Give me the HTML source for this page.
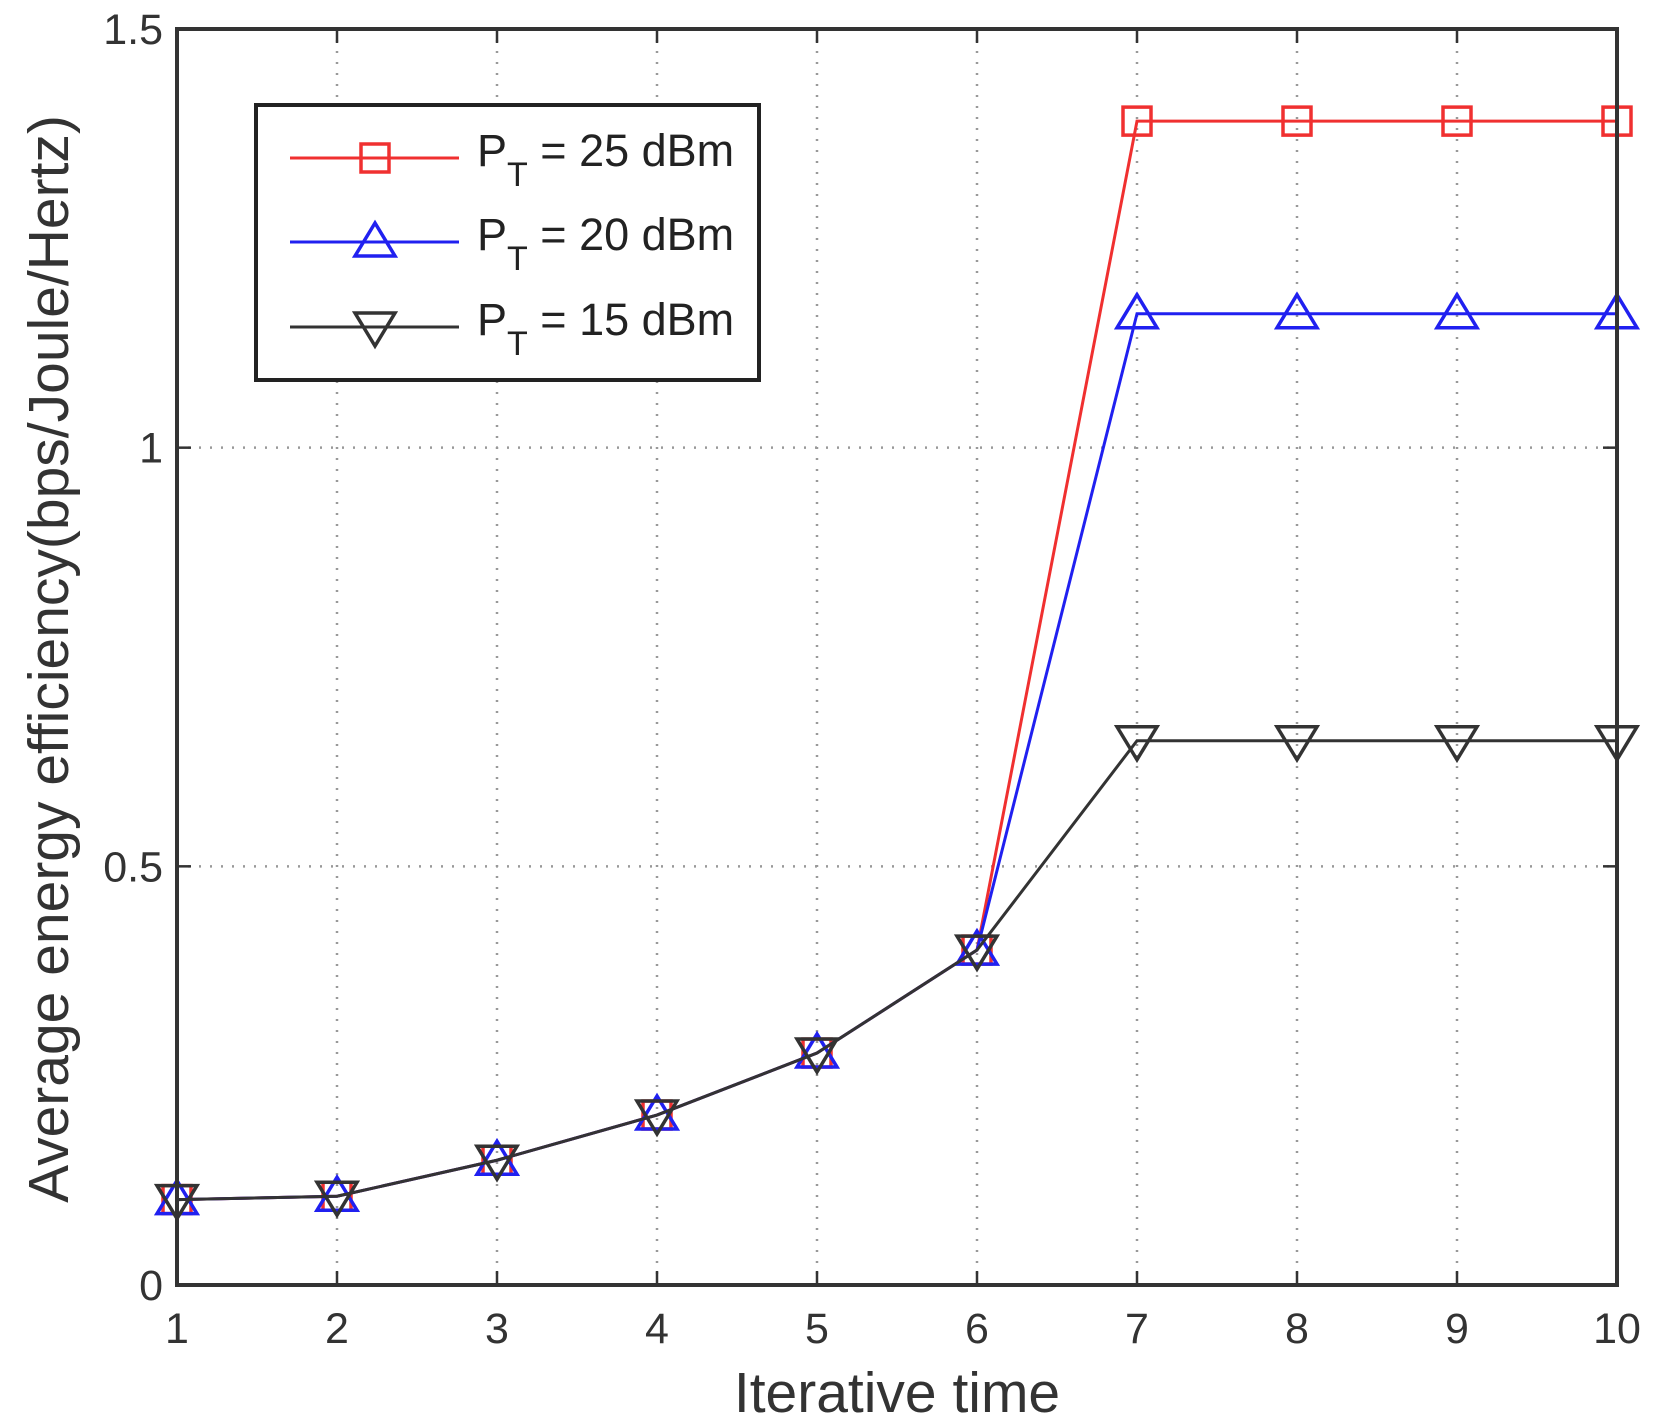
<!DOCTYPE html>
<html><head><meta charset="utf-8">
<style>
html,body{margin:0;padding:0;background:#fff;}
svg{display:block;font-family:"Liberation Sans",sans-serif;}
</style></head>
<body>
<svg id="chart" width="1654" height="1426" viewBox="0 0 1654 1426" xmlns="http://www.w3.org/2000/svg"></svg>
<script>
const categories = [1,2,3,4,5,6,7,8,9,10];
const series25 = [0.102,0.106,0.149,0.203,0.277,0.40,1.39,1.39,1.39,1.39];
const series20 = [0.102,0.106,0.149,0.203,0.277,0.40,1.16,1.16,1.16,1.16];
const series15 = [0.102,0.106,0.149,0.203,0.277,0.40,0.65,0.65,0.65,0.65];
const yTicks = [0,0.5,1,1.5];
const yTickLabels = ["0","0.5","1","1.5"];
const xTickLabels = ["1","2","3","4","5","6","7","8","9","10"];
const legendLabels = ["25 dBm","20 dBm","15 dBm"];

const L=177,R=1617,T=29,B=1285;
const NS="http://www.w3.org/2000/svg";
const svg=document.getElementById('chart');
function xs(v){return L+(v-1)/(9)*(R-L);}
function ys(v){return B-v/1.5*(B-T);}
function mk(tag,attrs,parent){const e=document.createElementNS(NS,tag);for(const k in attrs)e.setAttribute(k,attrs[k]);(parent||svg).appendChild(e);return e;}

const grid=mk('g',{});


categories.forEach(c=>{ if(c>1&&c<10) mk('line',{x1:xs(c),x2:xs(c),y1:T,y2:B,stroke:'#999','stroke-width':2.5,'stroke-dasharray':'2 9'},grid);});
yTicks.forEach(t=>{ if(t>0&&t<1.5) mk('line',{x1:L,x2:R,y1:ys(t),y2:ys(t),stroke:'#999','stroke-width':2.5,'stroke-dasharray':'2 9'},grid);});

categories.forEach((c,i)=>{
  mk('line',{x1:xs(c),x2:xs(c),y1:B,y2:B-14,stroke:'#333','stroke-width':2.5});
  mk('line',{x1:xs(c),x2:xs(c),y1:T,y2:T+14,stroke:'#333','stroke-width':2.5});
  const t=mk('text',{x:xs(c),y:B+58,'text-anchor':'middle','font-size':43,fill:'#333'});
  t.textContent=xTickLabels[i];
  
  
});
yTicks.forEach((v,i)=>{
  mk('line',{x1:L,x2:L+14,y1:ys(v),y2:ys(v),stroke:'#333','stroke-width':2.5});
  mk('line',{x1:R,x2:R-14,y1:ys(v),y2:ys(v),stroke:'#333','stroke-width':2.5});
  const t=mk('text',{x:L-14,y:ys(v)+15,'text-anchor':'end','font-size':43,fill:'#333'});
  t.textContent=yTickLabels[i];
  
  
});

function marker(type,x,y,color,parent){
  const s=16;
  if(type==='square') return mk('rect',{x:x-s+2,y:y-s+2,width:2*s-4,height:2*s-4,fill:'none',stroke:color,'stroke-width':3.5},parent);
  if(type==='up') return mk('polygon',{points:`${x},${y-s-3} ${x-s-4},${y+s-2} ${x+s+4},${y+s-2}`,fill:'none',stroke:color,'stroke-width':3.5},parent);
  return mk('polygon',{points:`${x},${y+s+3} ${x-s-4},${y-s+2} ${x+s+4},${y-s+2}`,fill:'none',stroke:color,'stroke-width':3.5},parent);
}
const defs=[[series25,'#f03030','square','series-25dbm'],[series20,'#2020f0','up','series-20dbm'],[series15,'#333','down','series-15dbm']];
defs.forEach(([data,color,type,name])=>{
  const g=mk('g',{});
  
  
  mk('polyline',{points:data.map((v,i)=>xs(categories[i])+','+ys(v)).join(' '),fill:'none',stroke:color,'stroke-width':3},g);
  data.forEach((v,i)=>{
    const m=marker(type,xs(categories[i]),ys(v),color,g);
    
    
  });
});

const box=mk('rect',{x:L,y:T,width:R-L,height:B-T,fill:'none',stroke:'#333','stroke-width':4});



const lg=mk('g',{});


mk('rect',{x:256,y:105,width:503,height:275,fill:'#fff',stroke:'#222','stroke-width':4},lg);
const ly=[158,242,327];
defs.forEach(([d,color,type,name],i)=>{
  const e=mk('g',{},lg);
  
  
  mk('line',{x1:290,x2:459,y1:ly[i],y2:ly[i],stroke:color,'stroke-width':3},e);
  marker(type,375,ly[i],color,e);
  const t=mk('text',{x:477,y:ly[i]+8,'font-size':45,fill:'#222'},e);
  t.innerHTML='P<tspan font-size="34" dy="20">T</tspan><tspan dy="-20"> = '+legendLabels[i]+'</tspan>';
});

const xl=mk('text',{x:897,y:1412,'text-anchor':'middle','font-size':57,fill:'#333'});
xl.textContent='Iterative time';


const yl=mk('text',{x:0,y:0,'text-anchor':'middle','font-size':57,fill:'#333',transform:'translate(68,659) rotate(-90)'});
yl.textContent='Average energy efficiency(bps/Joule/Hertz)';


</script>
</body></html>
